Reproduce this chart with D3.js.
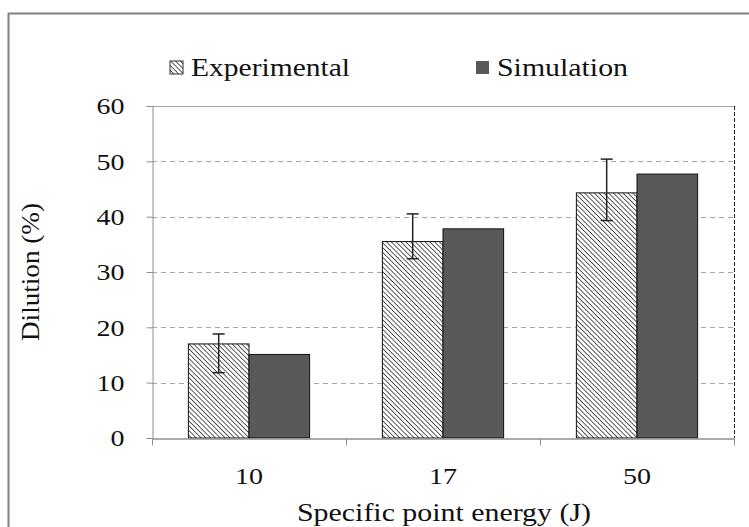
<!DOCTYPE html>
<html>
<head>
<meta charset="utf-8">
<script src="https://cdn.jsdelivr.net/npm/d3@7"></script>
<style>
  body { margin: 0; background: #fff; }
  #chart text { font-family: 'Liberation Serif', serif !important; }
</style>
</head>
<body>
<svg id="chart" width="749" height="527"></svg>
<script>
// data
const categories = ['10', '17', '50'];
const seriesNames = ['Experimental', 'Simulation'];
const experimental = [17, 35.5, 44.3];
const simulation = [15.1, 37.8, 47.7];
const errUpper = [18.8, 40.5, 50.4];
const errLower = [11.8, 32.4, 39.3];
const yTicks = [0, 10, 20, 30, 40, 50, 60];

const svg = d3.select('#chart');

// the reference text is stretched sideways, so fit widths per string
function stretch(sel, perChar) {
    sel.attr('textLength', function() { return this.textContent.length * perChar; })
        .attr('lengthAdjust', 'spacingAndGlyphs');
}

// Outer frame
svg.append('rect')
    .attr('x', 8.5).attr('y', 13.5)
    .attr('width', 760).attr('height', 540)
    .attr('fill', 'none')
    .attr('stroke', '#808080')
    .attr('stroke-width', 2);

// Hatch pattern
const defs = svg.append('defs');
defs.append('pattern')
    .attr('id', 'hatch')
    .attr('patternUnits', 'userSpaceOnUse')
    .attr('width', 3.4).attr('height', 3.4)
    .attr('patternTransform', 'rotate(-45)')
    .call(p => {
        p.append('rect').attr('width', 3.4).attr('height', 3.4).attr('fill', '#fff');
        p.append('line').attr('x1', 0).attr('y1', 0).attr('x2', 0).attr('y2', 3.4)
            .attr('stroke', '#333').attr('stroke-width', 1.6);
    });

const margin = {left: 152, right: 734, top: 106, bottom: 438};

const x = d3.scaleBand()
    .domain(categories)
    .range([margin.left, margin.right]);

const x1 = d3.scaleBand()
    .domain(seriesNames)
    .range([0, x.bandwidth()])
    .paddingOuter(0.6)
    .paddingInner(0);

const y = d3.scaleLinear()
    .domain([0, 60])
    .range([margin.bottom, margin.top]);

const g = svg.append('g');

// gridlines
g.selectAll('.grid')
    .data(yTicks.filter(d => d > 0 && d < 60))
    .enter().append('line')
    .attr('class', 'grid')
    .attr('x1', margin.left).attr('x2', margin.right)
    .attr('y1', d => Math.round(y(d)) + 0.5).attr('y2', d => Math.round(y(d)) + 0.5)
    .attr('stroke', '#a6a6a6')
    .attr('stroke-dasharray', '5,4');

// top border of plot (solid gray)
g.append('line')
    .attr('x1', margin.left).attr('x2', margin.right)
    .attr('y1', Math.round(y(60)) + 0.5).attr('y2', Math.round(y(60)) + 0.5)
    .attr('stroke', '#a6a6a6');

// right border (dashed black)
g.append('line')
    .attr('x1', margin.right + 0.5).attr('x2', margin.right + 0.5)
    .attr('y1', y(60)).attr('y2', y(0))
    .attr('stroke', '#222')
    .attr('stroke-dasharray', '4,2');

// bars
const groups = g.selectAll('.grp')
    .data(categories)
    .enter().append('g')
    .attr('class', 'grp')
    .attr('transform', d => `translate(${x(d)},0)`);

groups.append('rect')
    .attr('x', x1('Experimental'))
    .attr('y', (d, i) => y(experimental[i]))
    .attr('width', x1.bandwidth())
    .attr('height', (d, i) => y(0) - y(experimental[i]))
    .attr('fill', 'url(#hatch)')
    .attr('stroke', '#111')
    .attr('stroke-width', 1);

groups.append('rect')
    .attr('x', x1('Simulation'))
    .attr('y', (d, i) => y(simulation[i]))
    .attr('width', x1.bandwidth())
    .attr('height', (d, i) => y(0) - y(simulation[i]))
    .attr('fill', '#595959')
    .attr('stroke', '#111')
    .attr('stroke-width', 1);

// error bars
const ex = x1('Experimental') + x1.bandwidth() / 2;
const eb = groups.append('g').attr('stroke', '#222').attr('stroke-width', 1.5);
eb.append('line')
    .attr('x1', ex).attr('x2', ex)
    .attr('y1', (d, i) => y(errUpper[i])).attr('y2', (d, i) => y(errLower[i]));
eb.append('line')
    .attr('x1', ex - 6).attr('x2', ex + 6)
    .attr('y1', (d, i) => y(errUpper[i])).attr('y2', (d, i) => y(errUpper[i]));
eb.append('line')
    .attr('x1', ex - 6).attr('x2', ex + 6)
    .attr('y1', (d, i) => y(errLower[i])).attr('y2', (d, i) => y(errLower[i]));

// y axis
const yAxis = g.append('g')
    .attr('transform', `translate(${margin.left + 0.5},0)`)
    .call(d3.axisLeft(y).tickValues(yTicks).tickSize(6).tickPadding(22));
yAxis.attr('font-family', null);
yAxis.select('.domain').attr('stroke', '#909090');
yAxis.selectAll('.tick line').attr('stroke', '#909090');
yAxis.selectAll('.tick text')
    .attr('fill', '#111')
    .style('font-size', '24px')
    .call(stretch, 14);

// x axis
const xAxis = g.append('g')
    .attr('transform', `translate(0,${Math.round(y(0)) + 0.5})`)
    .call(d3.axisBottom(x).tickSize(0).tickPadding(28));
xAxis.attr('font-family', null);
xAxis.select('.domain').attr('stroke', '#909090').attr('stroke-width', 1.5);
xAxis.selectAll('.tick text')
    .attr('fill', '#111')
    .style('font-size', '24px')
    .call(stretch, 14);
// boundary ticks between categories
xAxis.selectAll('.bt')
    .data(categories.concat(['end']))
    .enter().append('line')
    .attr('class', 'bt')
    .attr('x1', (d, i) => (i < categories.length ? x(d) : margin.right) + 0.5)
    .attr('x2', (d, i) => (i < categories.length ? x(d) : margin.right) + 0.5)
    .attr('y1', 0).attr('y2', 7)
    .attr('stroke', '#909090');

// axis titles
svg.append('text')
    .attr('transform', `translate(30,${(margin.top + margin.bottom) / 2}) rotate(-90)`)
    .attr('text-anchor', 'middle')
    .attr('dy', '0.35em')
    .attr('fill', '#111')
    .style('font-size', '25px')
    .attr('textLength', 138)
    .attr('lengthAdjust', 'spacingAndGlyphs')
    .text('Dilution (%)');

svg.append('text')
    .attr('x', (margin.left + margin.right) / 2 + 1)
    .attr('y', 521)
    .attr('text-anchor', 'middle')
    .attr('fill', '#111')
    .style('font-size', '25px')
    .attr('textLength', 294)
    .attr('lengthAdjust', 'spacingAndGlyphs')
    .text('Specific point energy (J)');

// legend
const legendItems = [
    {label: 'Experimental', fill: 'url(#hatch)', x: 170, w: 159},
    {label: 'Simulation', fill: '#595959', x: 476, w: 131}
];
const legend = svg.append('g').attr('class', 'legend');
const li = legend.selectAll('.legend-item')
    .data(legendItems)
    .enter().append('g')
    .attr('class', 'legend-item')
    .attr('transform', d => `translate(${d.x},61)`);
li.append('rect')
    .attr('width', 13).attr('height', 13)
    .attr('fill', d => d.fill)
    .attr('stroke', d => d.label === 'Experimental' ? '#333' : 'none');
li.append('text')
    .attr('x', 21).attr('y', 6.5)
    .attr('dy', '0.35em')
    .attr('fill', '#111')
    .style('font-size', '25px')
    .attr('textLength', d => d.w)
    .attr('lengthAdjust', 'spacingAndGlyphs')
    .text(d => d.label);
</script>
</body>
</html>
